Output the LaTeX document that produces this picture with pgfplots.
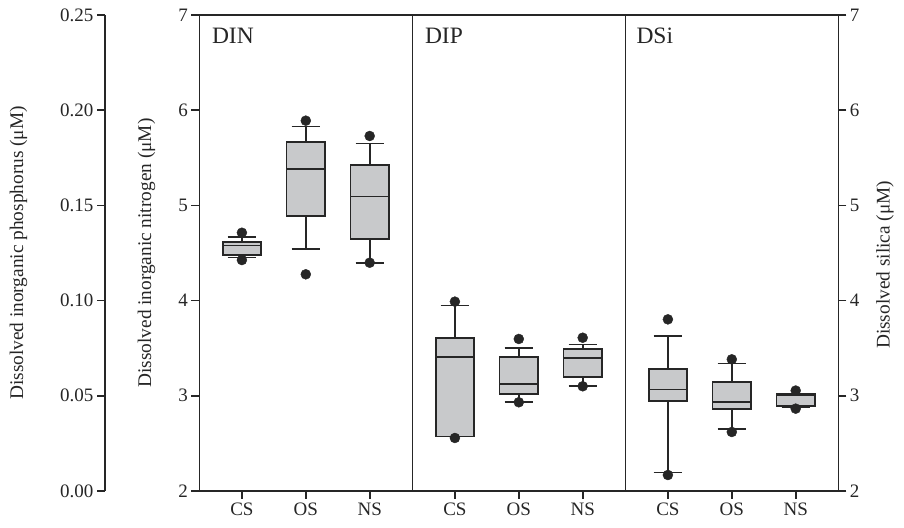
\documentclass[border=0pt]{standalone}
\usepackage{fontspec}
\setmainfont{Liberation Serif}
\usepackage{pgfplots}
\pgfplotsset{compat=1.18}
\usepgfplotslibrary{statistics}
\definecolor{boxgray}{HTML}{C8C9CB}
\definecolor{lin}{HTML}{262626}
\pgfplotsset{
  bp/.style={draw=lin, line width=1.7pt, fill=boxgray, mark=*, mark size=5pt,
    mark options={fill=lin, draw=lin, line width=0.4pt},
    boxplot/box extend=0.54, boxplot/whisker extend=0.4,
    boxplot/every box/.style={draw=lin, line width=1.7pt, fill=boxgray},
    boxplot/every whisker/.style={draw=lin, line width=1.6pt},
    boxplot/every median/.style={draw=lin, line width=1.6pt}},
  common/.style={scale only axis, anchor=south west, height=476pt,
    tick label style={font=\fontsize{19}{20}\selectfont, text=lin},
    /pgf/number format/assume math mode=true,
    tick align=outside, major tick length=8pt,
    every tick/.style={draw=lin, line width=1.6pt},
    axis line style={draw=lin, line width=1.6pt}},
}
\begin{document}
\begin{tikzpicture}
\path[use as bounding box] (0pt,0pt) rectangle (904pt,527pt);
% outer phosphorus axis
\begin{axis}[common, at={(105pt,36pt)}, width=20pt,
  xmin=0, xmax=1, ymin=0, ymax=0.25,
  axis x line=none, axis y line*=left,
  ytick={0,0.05,0.1,0.15,0.2,0.25},
  yticklabel style={/pgf/number format/.cd, fixed, fixed zerofill, precision=2}]
\addplot[draw=none] coordinates {(0.5,0.1)};
\end{axis}
% main axis
\begin{axis}[common, at={(199.3pt,36pt)}, width=639pt,
  xmin=0, xmax=9, ymin=2, ymax=7, clip=false,
  xtick={0.6,1.5,2.4,3.6,4.5,5.4,6.6,7.5,8.4},
  xticklabels={CS,OS,NS,CS,OS,NS,CS,OS,NS},
  ytick={2,3,4,5,6,7},
  xtick pos=bottom, ytick pos=left,
  extra x ticks={3,6}, extra x tick labels={},
  extra x tick style={grid=major, major tick length=0pt,
    grid style={draw=lin, line width=1.5pt}},
  boxplot/draw direction=y]
% DIN
\addplot[bp, boxplot prepared={draw position=0.6, lower whisker=4.451, lower quartile=4.479, median=4.577, upper quartile=4.619, upper whisker=4.665}] coordinates {(0,4.713)(0,4.426)};
\addplot[bp, boxplot prepared={draw position=1.5, lower whisker=4.539, lower quartile=4.892, median=5.382, upper quartile=5.663, upper whisker=5.827}] coordinates {(0,5.890)(0,4.276)};
\addplot[bp, boxplot prepared={draw position=2.4, lower whisker=4.398, lower quartile=4.650, median=5.095, upper quartile=5.421, upper whisker=5.652}] coordinates {(0,5.729)(0,4.398)};
% DIP
\addplot[bp, boxplot prepared={draw position=3.6, lower whisker=2.574, lower quartile=2.574, median=3.408, upper quartile=3.607, upper whisker=3.947}] coordinates {(0,3.989)(0,2.557)};
\addplot[bp, boxplot prepared={draw position=4.5, lower whisker=2.932, lower quartile=3.016, median=3.124, upper quartile=3.408, upper whisker=3.505}] coordinates {(0,3.597)(0,2.932)};
\addplot[bp, boxplot prepared={draw position=5.4, lower whisker=3.100, lower quartile=3.194, median=3.397, upper quartile=3.495, upper whisker=3.537}] coordinates {(0,3.610)(0,3.100)};
% DSi
\addplot[bp, boxplot prepared={draw position=6.6, lower whisker=2.196, lower quartile=2.945, median=3.068, upper quartile=3.278, upper whisker=3.625}] coordinates {(0,3.803)(0,2.168)};
\addplot[bp, boxplot prepared={draw position=7.5, lower whisker=2.651, lower quartile=2.858, median=2.932, upper quartile=3.145, upper whisker=3.341}] coordinates {(0,3.383)(0,2.620)};
\addplot[bp, boxplot prepared={draw position=8.4, lower whisker=2.875, lower quartile=2.893, median=3.010, upper quartile=3.022, upper whisker=3.022}] coordinates {(0,3.055)(0,2.865)};
% panel labels
\node[anchor=north west, inner sep=0pt, font=\fontsize{23.5}{24}\selectfont, text=lin] at (axis cs:0,7) [xshift=12.5pt, yshift=-13pt] {DIN};
\node[anchor=north west, inner sep=0pt, font=\fontsize{23.5}{24}\selectfont, text=lin] at (axis cs:3,7) [xshift=12.5pt, yshift=-13pt] {DIP};
\node[anchor=north west, inner sep=0pt, font=\fontsize{23.5}{24}\selectfont, text=lin] at (axis cs:6,7) [xshift=11pt, yshift=-13pt] {DSi};
% axis titles
\node[rotate=90, font=\fontsize{19.3}{20}\selectfont, text=lin] at (axis description cs:-0.283,0.5) {Dissolved inorganic phosphorus (μM)};
\node[rotate=90, font=\fontsize{19.3}{20}\selectfont, text=lin] at (axis description cs:-0.0826,0.5) {Dissolved inorganic nitrogen (μM)};
\node[rotate=90, font=\fontsize{19.3}{20}\selectfont, text=lin] at (axis description cs:1.073,0.475) {Dissolved silica (μM)};
\end{axis}
% right silica axis
\begin{axis}[common, at={(199.3pt,36pt)}, width=639pt,
  xmin=0, xmax=9, ymin=2, ymax=7,
  axis x line=none, axis y line*=right,
  ytick={2,3,4,5,6,7}]
\addplot[draw=none] coordinates {(1,3)};
\end{axis}
\end{tikzpicture}
\end{document}
